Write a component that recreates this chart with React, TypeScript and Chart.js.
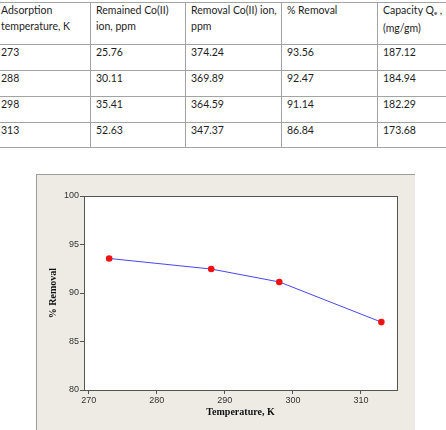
import React, { useEffect, useRef } from "react";
import { Chart, registerables } from "chart.js";

Chart.register(...registerables);

// ---- Data ----
const temperatures = [273, 288, 298, 313];
const remainedIon = ["25.76", "30.11", "35.41", "52.63"];
const removalIon = ["374.24", "369.89", "364.59", "347.37"];
const percentRemoval = ["93.56", "92.47", "91.14", "86.84"];
const capacity = ["187.12", "184.94", "182.29", "173.68"];

// values as plotted in the chart
const chartRemoval = [93.56, 92.47, 91.14, 87.0];
const xTicks = [270, 280, 290, 300, 310];
const yTicks = [80, 85, 90, 95, 100];

const xTitle = "Temperature, K";
const yTitle = "% Removal";

const TABLE_FONT = "Lato, 'Liberation Sans', sans-serif";
const LINE_COLOR = "#a3a3a3";
const colLefts = [-5, 90, 185, 281, 377];
const rowLines = [2, 44, 70, 96, 122, 147];

function headerCell(i: number) {
  switch (i) {
    case 0:
      return (<>Adsorption<br />temperature, K</>);
    case 1:
      return (<>Remained Co(II)<br />ion, ppm</>);
    case 2:
      return (<>Removal Co(II) ion,<br />ppm</>);
    case 3:
      return (<>% Removal</>);
    default:
      return (<>Capacity Q<sub style={{ fontSize: "6px", verticalAlign: "-1px" }}>e</sub> ,<br />(mg/gm)</>);
  }
}

const framePlugin = {
  id: "framePlugin",
  beforeDraw(chart: any) {
    const { ctx, chartArea } = chart;
    ctx.save();
    ctx.fillStyle = "#ffffff";
    ctx.fillRect(chartArea.left, chartArea.top, chartArea.right - chartArea.left, chartArea.bottom - chartArea.top);
    ctx.restore();
  },
  afterDraw(chart: any) {
    const { ctx, chartArea } = chart;
    ctx.save();
    ctx.strokeStyle = "#555555";
    ctx.lineWidth = 1;
    ctx.strokeRect(chartArea.left + 0.5, chartArea.top + 0.5, chartArea.right - chartArea.left, chartArea.bottom - chartArea.top);
    ctx.restore();
  },
};

function RemovalChart() {
  const ref = useRef<HTMLCanvasElement | null>(null);
  useEffect(() => {
    if (!ref.current) return;
    const chart = new Chart(ref.current, {
      type: "line",
      data: {
        datasets: [
          {
            data: temperatures.map((t, i) => ({ x: t, y: chartRemoval[i] })),
            borderColor: "#4848f0",
            borderWidth: 1,
            pointBackgroundColor: "#ee1111",
            pointBorderColor: "#ee1111",
            pointBorderWidth: 0,
            pointRadius: 3.3,
            tension: 0,
          },
        ],
      },
      options: {
        animation: false,
        responsive: false,
        devicePixelRatio: 1,
        layout: { padding: { top: 21, right: 18, left: 0, bottom: 0 } },
        plugins: { legend: { display: false }, tooltip: { enabled: false } },
        scales: {
          x: {
            type: "linear",
            min: 269.3,
            max: 315.3,
            afterBuildTicks: (s: any) => {
              s.ticks = xTicks.map((v) => ({ value: v }));
            },
            afterFit: (s: any) => {
              s.height = 40;
            },
            grid: { drawOnChartArea: false, tickLength: 4, color: "#555555" },
            border: { display: false },
            ticks: {
              padding: 1,
              color: "#333333",
              maxRotation: 0,
              font: { family: "'Liberation Sans', sans-serif", size: 9 },
            },
            title: {
              display: true,
              text: xTitle,
              color: "#111111",
              font: { family: "'Liberation Serif', serif", size: 10, weight: "bold" },
              padding: { top: 0, bottom: 12 },
            },
          },
          y: {
            type: "linear",
            min: 80,
            max: 100,
            afterBuildTicks: (s: any) => {
              s.ticks = yTicks.map((v) => ({ value: v }));
            },
            afterFit: (s: any) => {
              s.width = 47;
            },
            grid: { drawOnChartArea: false, tickLength: 4, color: "#555555" },
            border: { display: false },
            ticks: {
              padding: 1,
              color: "#333333",
              font: { family: "'Liberation Sans', sans-serif", size: 9 },
            },
            title: {
              display: true,
              text: yTitle,
              color: "#111111",
              font: { family: "'Liberation Serif', serif", size: 10, weight: "bold" },
              padding: { top: 10, bottom: 0 },
            },
          },
        },
      },
      plugins: [framePlugin],
    } as any);
    return () => chart.destroy();
  }, []);
  return (
    <canvas
      ref={ref}
      width={378}
      height={255}
      style={{ position: "absolute", left: 37, top: 175, width: 378, height: 255 }}
    />
  );
}

export default function App() {
  const rows = temperatures.map((t, i) => [String(t), remainedIon[i], removalIon[i], percentRemoval[i], capacity[i]]);
  const textStyle = (left: number, top: number): React.CSSProperties => ({
    position: "absolute",
    left: left + 6,
    top,
    fontFamily: TABLE_FONT,
    fontSize: "10.5px",
    lineHeight: "15.5px",
    color: "#1e1e1e",
    whiteSpace: "nowrap",
  });
  return (
    <div style={{ position: "absolute", left: 0, top: 0, width: 446, height: 430, background: "#ffffff", overflow: "hidden" }}>
      {/* table lines */}
      {rowLines.map((y, i) => (
        <div key={"h" + i} style={{ position: "absolute", left: 0, top: y, width: 446, height: 1, background: LINE_COLOR }} />
      ))}
      {colLefts.slice(1).map((x, i) => (
        <div key={"v" + i} style={{ position: "absolute", left: x, top: rowLines[0], width: 1, height: rowLines[rowLines.length - 1] - rowLines[0] + 1, background: LINE_COLOR }} />
      ))}
      {/* header */}
      {colLefts.map((x, c) => (
        <div key={"hd" + c} style={textStyle(x, 3)}>{headerCell(c)}</div>
      ))}
      {/* rows */}
      {rows.map((r, ri) =>
        r.map((v, c) => (
          <div key={"c" + ri + "_" + c} style={textStyle(colLefts[c], rowLines[ri + 1] + 1)}>{v}</div>
        ))
      )}
      {/* chart frame */}
      <div
        style={{
          position: "absolute",
          left: 36,
          top: 174,
          width: 379,
          height: 256,
          boxSizing: "border-box",
          background: "#eeebe4",
          borderTop: "1px solid #9c9c9c",
          borderLeft: "1px solid #9c9c9c",
        }}
      />
      <RemovalChart />
    </div>
  );
}
